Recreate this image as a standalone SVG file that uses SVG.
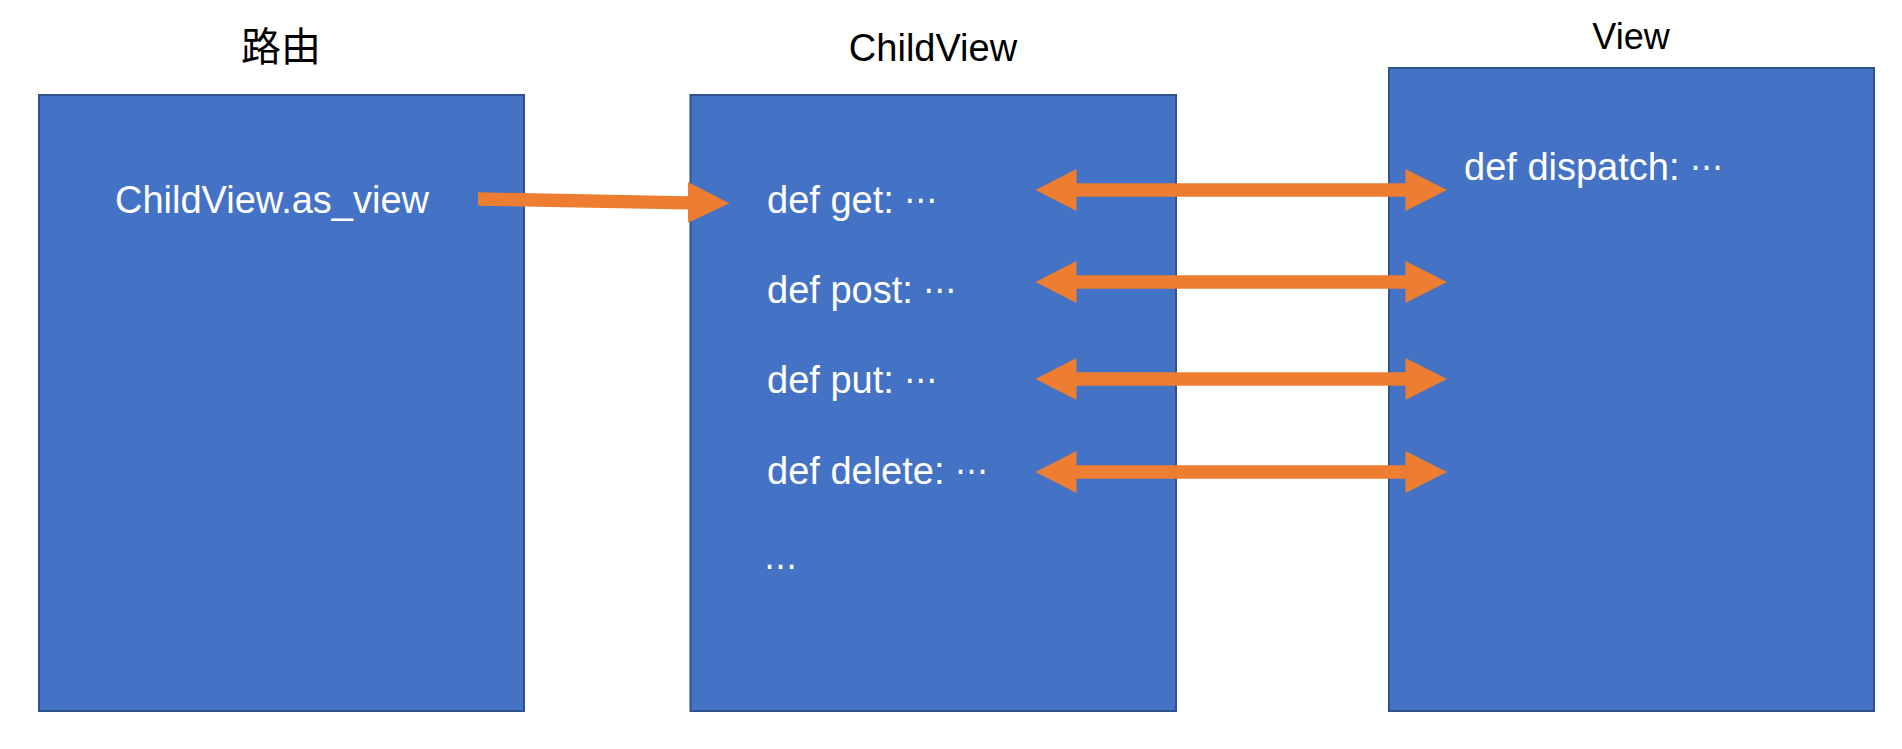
<svg xmlns="http://www.w3.org/2000/svg" width="1902" height="749" viewBox="0 0 1902 749">
<style>
.box{fill:#4472C4;stroke:#2F528F;stroke-width:2}
.title{font-family:"Liberation Sans","Noto Sans CJK SC",sans-serif;fill:#000;text-anchor:middle}
.body{font-family:"Liberation Sans","Noto Sans CJK SC",sans-serif;fill:#fff;font-size:38px}
.ell{font-family:"DejaVu Sans",sans-serif;font-size:33px}
.arr{fill:#ED7D31}
</style>
<rect width="1902" height="749" fill="#fff"/>
<g id="node-router">
<rect class="box" x="39" y="95" width="485" height="616"/>
<text class="title" x="281" y="61" font-size="40" style="font-family:'Noto Sans CJK SC',sans-serif">路由</text>
<text class="body" x="115" y="213">ChildView.as_view</text>
</g>
<g id="node-childview">
<rect class="box" x="690.5" y="95" width="485.5" height="616"/>
<text class="title" x="933" y="61" font-size="38">ChildView</text>
<text class="body" x="767" y="213">def get: <tspan class="ell" dy="-2">⋯</tspan></text>
<text class="body" x="767" y="303">def post: <tspan class="ell" dy="-2">⋯</tspan></text>
<text class="body" x="767" y="393">def put: <tspan class="ell" dy="-2">⋯</tspan></text>
<text class="body" x="767" y="484">def delete: <tspan class="ell" dy="-2">⋯</tspan></text>
<text class="body" x="764" y="577"><tspan class="ell">⋯</tspan></text>
</g>
<g id="node-view">
<rect class="box" x="1389" y="68" width="485" height="643"/>
<text class="title" x="1631" y="49" font-size="36">View</text>
<text class="body" x="1464" y="180">def dispatch: <tspan class="ell" dy="-2">⋯</tspan></text>
</g>
<g id="connectors">
<polygon class="arr" points="478,192.3 688.1,196.2 688,182 729.5,203.3 688,222.7 688,209.5 478,205.7"/>
<polygon class="arr" points="1035.5,190 1076.5,169 1076.5,183.3 1405.5,183.3 1405.5,169 1447,190 1405.5,211 1405.5,196.7 1076.5,196.7 1076.5,211"/>
<polygon class="arr" points="1035.5,282 1076.5,261 1076.5,275.3 1405.5,275.3 1405.5,261 1447,282 1405.5,303 1405.5,288.7 1076.5,288.7 1076.5,303"/>
<polygon class="arr" points="1035.5,379 1076.5,358 1076.5,372.3 1405.5,372.3 1405.5,358 1447,379 1405.5,400 1405.5,385.7 1076.5,385.7 1076.5,400"/>
<polygon class="arr" points="1035.5,472 1076.5,451 1076.5,465.3 1405.5,465.3 1405.5,451 1447,472 1405.5,493 1405.5,478.7 1076.5,478.7 1076.5,493"/>
</g>
</svg>
